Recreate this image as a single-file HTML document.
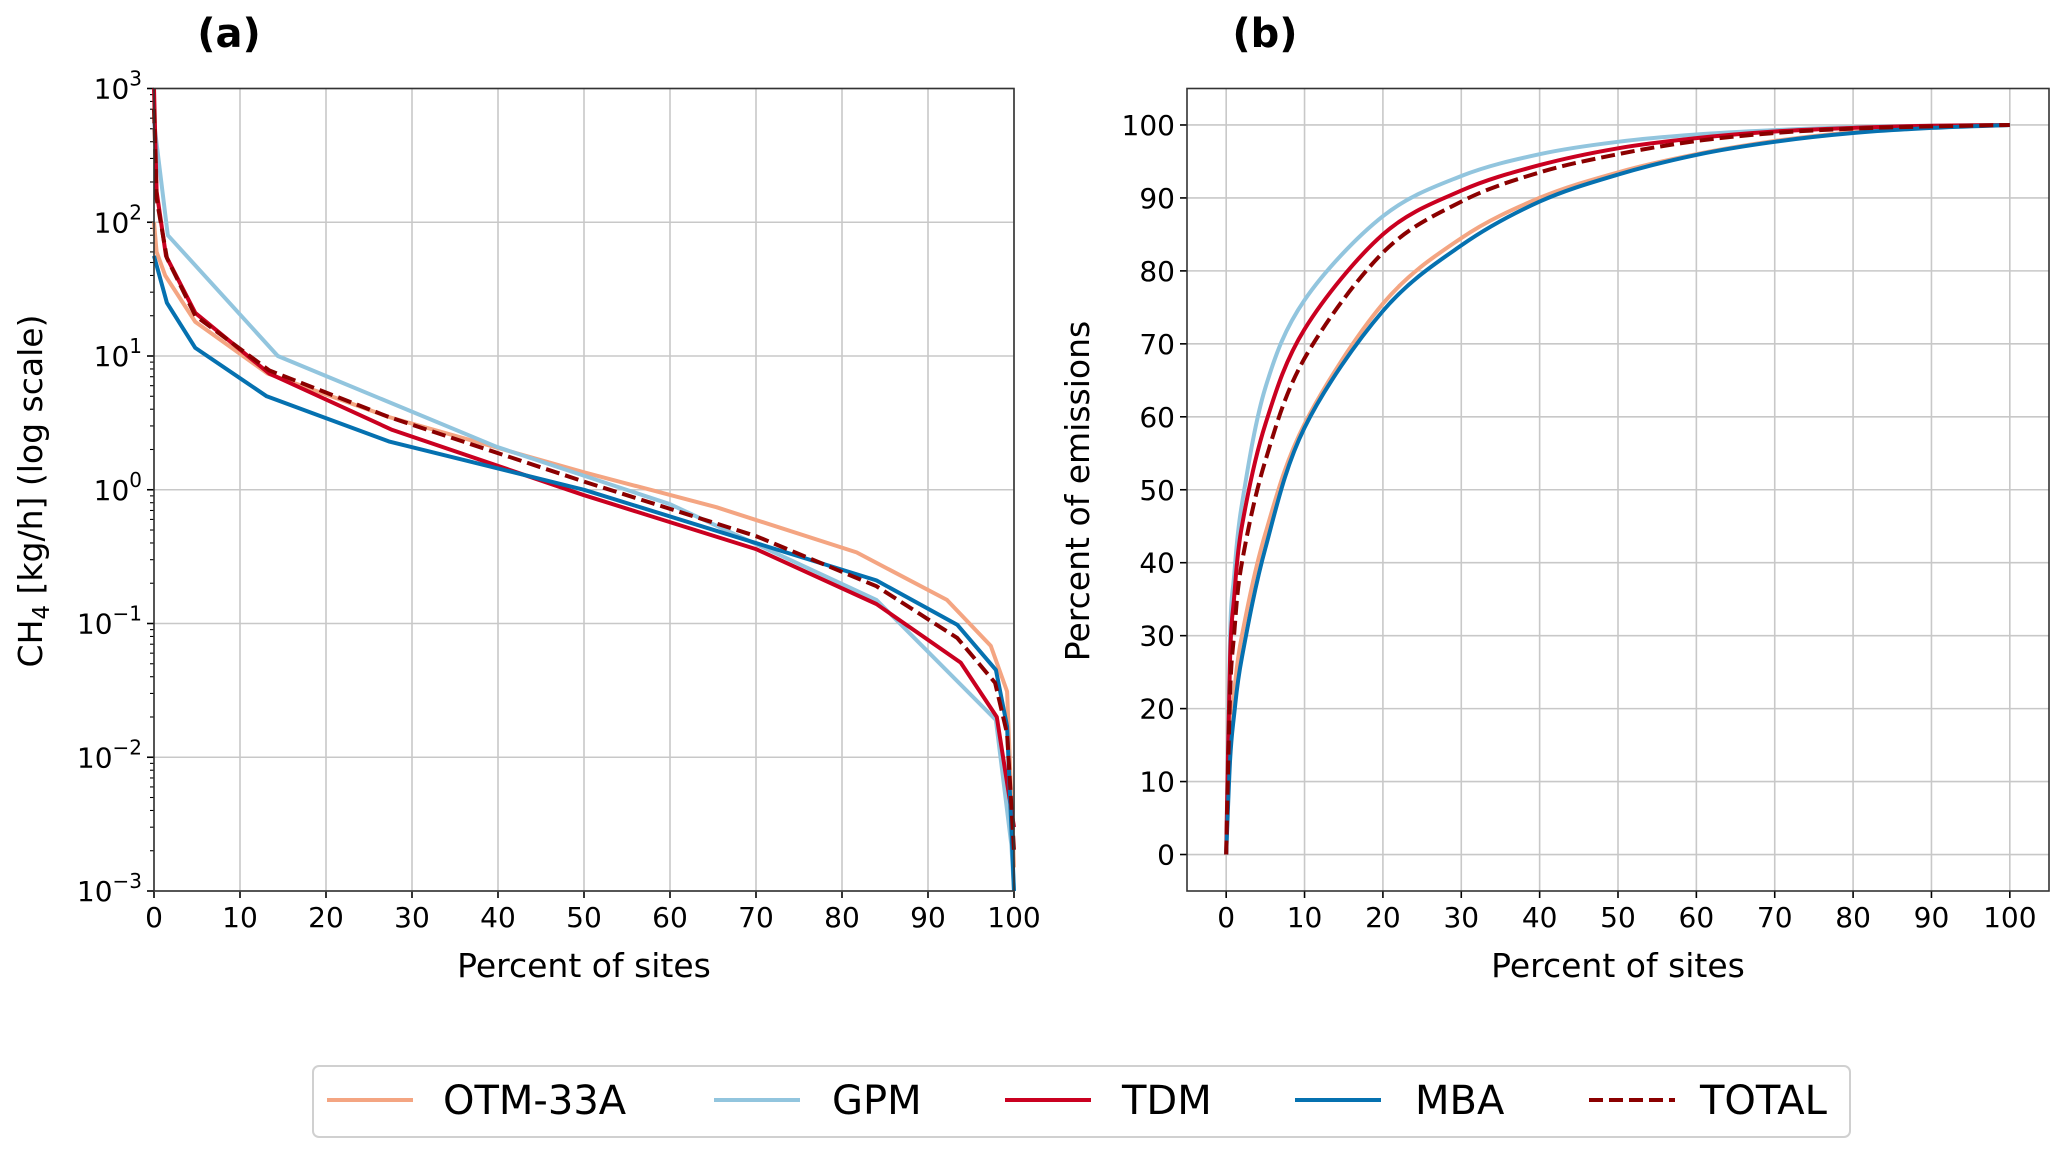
<!DOCTYPE html>
<html><head><meta charset="utf-8"><style>
html,body{margin:0;padding:0;background:#fff;}
svg{display:block;font-family:"DejaVu Sans","Liberation Sans",sans-serif;}
</style></head><body>
<svg id="fig" width="2067" height="1156" viewBox="0 0 2067 1156" xmlns="http://www.w3.org/2000/svg">
<text x="229" y="47" font-size="40" font-weight="bold" text-anchor="middle">(a)</text>
<text x="1265" y="47" font-size="40" font-weight="bold" text-anchor="middle">(b)</text>
<g id="pa"></g>
<g id="pb"></g>
<text x="584" y="977" font-size="33" text-anchor="middle">Percent of sites</text>
<text x="1618" y="977" font-size="33" text-anchor="middle">Percent of sites</text>
<text transform="translate(42,491) rotate(-90)" font-size="33" text-anchor="middle">CH<tspan font-size="23" dy="7">4</tspan><tspan dy="-7"> [kg/h] (log scale)</tspan></text>
<text transform="translate(1089,491) rotate(-90)" font-size="33" text-anchor="middle">Percent of emissions</text>
<g id="legend">
<rect x="313" y="1066" width="1537" height="71" rx="6" fill="#fff" stroke="#d0d0d0" stroke-width="2"/>
</g>
</svg>
<script>
const NS="http://www.w3.org/2000/svg";
const seriesNames=["OTM-33A","GPM","TDM","MBA","TOTAL"];
const seriesColors=["#f4a582","#92c5de","#ca0020","#0571b0","#8b0000"];
// Panel (a): x = percent of sites, y = CH4 kg/h
const aOTMx=[0,0.3,1.3,4.8,13.2,27.3,50,65.4,81.7,92.2,97.3,99.2,100];
const aOTMy=[100,60,40,18,7.4,3.5,1.35,0.74,0.34,0.15,0.068,0.031,0.0015];
const aGPMx=[0,1.6,14.4,39.8,60,84,97.9,99.7,100];
const aGPMy=[560,80,10,2.1,0.78,0.15,0.019,0.0022,0.001];
const aTDMx=[0,0.3,1.4,4.8,13.4,27.7,50,70,84,93.8,98,100];
const aTDMy=[1000,170,56,21,7.4,2.8,0.91,0.36,0.14,0.051,0.02,0.003];
const aMBAx=[0,1.5,4.8,13.1,27.3,50,84,93.4,97.9,99.2,100];
const aMBAy=[56,25,11.5,5,2.3,1.0,0.21,0.098,0.045,0.017,0.001];
const aTOTx=[0,0.3,1.5,4.8,13.4,27.3,50,70,84,93.4,97.8,99.2,100];
const aTOTy=[700,150,54,20,7.8,3.5,1.15,0.45,0.19,0.078,0.036,0.015,0.002];
// Panel (b): cumulative percent of emissions
const bX=[0,0.5,1,2,5,10,20,30,40,50,60,70,80,90,100];
const bOTM=[0,16,22,30,44,59,75.5,84.5,90,93.5,96,97.8,99,99.7,100];
const bGPM=[0,30,38,48,64,76,87.5,93,96,97.7,98.7,99.3,99.7,99.9,100];
const bTDM=[0,27,35,45,59,72,85,91,94.5,96.8,98.2,99.1,99.6,99.9,100];
const bMBA=[0,13,19,27,42,58.5,74.5,83.5,89.5,93.2,95.9,97.7,98.9,99.6,100];
const bTOT=[0,22,30,40,54,68,82.5,89.5,93.5,96,97.8,98.9,99.5,99.8,100];
const aXTicks=[0,10,20,30,40,50,60,70,80,90,100];
const aYExps=[-3,-2,-1,0,1,2,3];
const bXTicks=[0,10,20,30,40,50,60,70,80,90,100];
const bYTicks=[0,10,20,30,40,50,60,70,80,90,100];

function el(tag,attrs,parent){const e=document.createElementNS(NS,tag);for(const k in attrs)e.setAttribute(k,attrs[k]);parent.appendChild(e);return e;}

const A={l:154,r:1014,t:88.5,b:891};
const ax=v=>A.l+(v-0)/100*(A.r-A.l);
const ay=v=>A.b-(Math.log10(v)+3)/6*(A.b-A.t);
const pa=document.getElementById('pa');
aXTicks.forEach(v=>{
 const g=el('line',{x1:ax(v),x2:ax(v),y1:A.t,y2:A.b,stroke:'#c8c8c8','stroke-width':1.6},pa);
 
 const t=el('line',{x1:ax(v),x2:ax(v),y1:A.b,y2:A.b+7,stroke:'#000','stroke-width':1.6},pa);
 
 const tx=el('text',{x:ax(v),y:A.b+36,'font-size':28,'text-anchor':'middle'},pa);tx.textContent=v;
 
});
aYExps.forEach(e=>{
 const y=ay(Math.pow(10,e));
 const g=el('line',{x1:A.l,x2:A.r,y1:y,y2:y,stroke:'#c8c8c8','stroke-width':1.6},pa);
 
 const t=el('line',{x1:A.l-7,x2:A.l,y1:y,y2:y,stroke:'#000','stroke-width':1.6},pa);
 
 const tx=el('text',{x:A.l-12,y:y+10,'font-size':28,'text-anchor':'end'},pa);
 
 tx.innerHTML='10<tspan font-size="20" dy="-13">'+(e<0?'\u2212'+(-e):e)+'</tspan>';
 if(e<3){for(let m=2;m<=9;m++){const yy=ay(m*Math.pow(10,e));
  const mt=el('line',{x1:A.l-4,x2:A.l,y1:yy,y2:yy,stroke:'#000','stroke-width':1.1},pa);
  }}
});
const aSeries=[[aOTMx,aOTMy],[aGPMx,aGPMy],[aTDMx,aTDMy],[aMBAx,aMBAy],[aTOTx,aTOTy]];
aSeries.forEach((s,i)=>{
 const d=s[0].map((x,j)=>(j?'L':'M')+ax(x).toFixed(1)+','+ay(s[1][j]).toFixed(1)).join('');
 const p=el('path',{d:d,fill:'none',stroke:seriesColors[i],'stroke-width':4,'stroke-linejoin':'round'},pa);
 if(i===4)p.setAttribute('stroke-dasharray','14,6');
 
});
const fa=el('rect',{x:A.l,y:A.t,width:A.r-A.l,height:A.b-A.t,fill:'none',stroke:'#333','stroke-width':1.6},pa);


const B={l:1187,r:2049,t:88.5,b:891};
const bx=v=>B.l+(v+5)/110*(B.r-B.l);
const by=v=>B.b-(v+5)/110*(B.b-B.t);
const pb=document.getElementById('pb');
bXTicks.forEach(v=>{
 const g=el('line',{x1:bx(v),x2:bx(v),y1:B.t,y2:B.b,stroke:'#c8c8c8','stroke-width':1.6},pb);
 
 const t=el('line',{x1:bx(v),x2:bx(v),y1:B.b,y2:B.b+7,stroke:'#000','stroke-width':1.6},pb);
 
 const tx=el('text',{x:bx(v),y:B.b+36,'font-size':28,'text-anchor':'middle'},pb);tx.textContent=v;
 
});
bYTicks.forEach(v=>{
 const y=by(v);
 const g=el('line',{x1:B.l,x2:B.r,y1:y,y2:y,stroke:'#c8c8c8','stroke-width':1.6},pb);
 
 const t=el('line',{x1:B.l-7,x2:B.l,y1:y,y2:y,stroke:'#000','stroke-width':1.6},pb);
 
 const tx=el('text',{x:B.l-12,y:y+10,'font-size':28,'text-anchor':'end'},pb);tx.textContent=v;
 
});
function smooth(pts){let d='M'+pts[0][0].toFixed(1)+','+pts[0][1].toFixed(1);
 for(let i=0;i<pts.length-1;i++){const p0=pts[Math.max(0,i-1)],p1=pts[i],p2=pts[i+1],p3=pts[Math.min(pts.length-1,i+2)];
  const c1=[p1[0]+(p2[0]-p0[0])/6,p1[1]+(p2[1]-p0[1])/6],c2=[p2[0]-(p3[0]-p1[0])/6,p2[1]-(p3[1]-p1[1])/6];
  d+='C'+c1[0].toFixed(1)+','+c1[1].toFixed(1)+' '+c2[0].toFixed(1)+','+c2[1].toFixed(1)+' '+p2[0].toFixed(1)+','+p2[1].toFixed(1);}
 return d;}
const bSeries=[bOTM,bGPM,bTDM,bMBA,bTOT];
bSeries.forEach((s,i)=>{
 const pts=bX.map((x,j)=>[bx(x),by(s[j])]);
 const p=el('path',{d:smooth(pts),fill:'none',stroke:seriesColors[i],'stroke-width':4,'stroke-linejoin':'round'},pb);
 if(i===4)p.setAttribute('stroke-dasharray','14,6');
 
});
const fb=el('rect',{x:B.l,y:B.t,width:B.r-B.l,height:B.b-B.t,fill:'none',stroke:'#333','stroke-width':1.6},pb);


const lg=document.getElementById('legend');
const legLineX=[327,714,1005,1295,1589];
const legTextX=[443,832,1122,1415,1700];
seriesNames.forEach((n,i)=>{
 const g=el('g',{},lg);
 
 const l=el('line',{x1:legLineX[i],x2:legLineX[i]+86,y1:1100,y2:1100,stroke:seriesColors[i],'stroke-width':4},g);
 if(i===4)l.setAttribute('stroke-dasharray','14,6');
 
 const t=el('text',{x:legTextX[i],y:1114,'font-size':40},g);t.textContent=n;
 
});
</script>
</body></html>
